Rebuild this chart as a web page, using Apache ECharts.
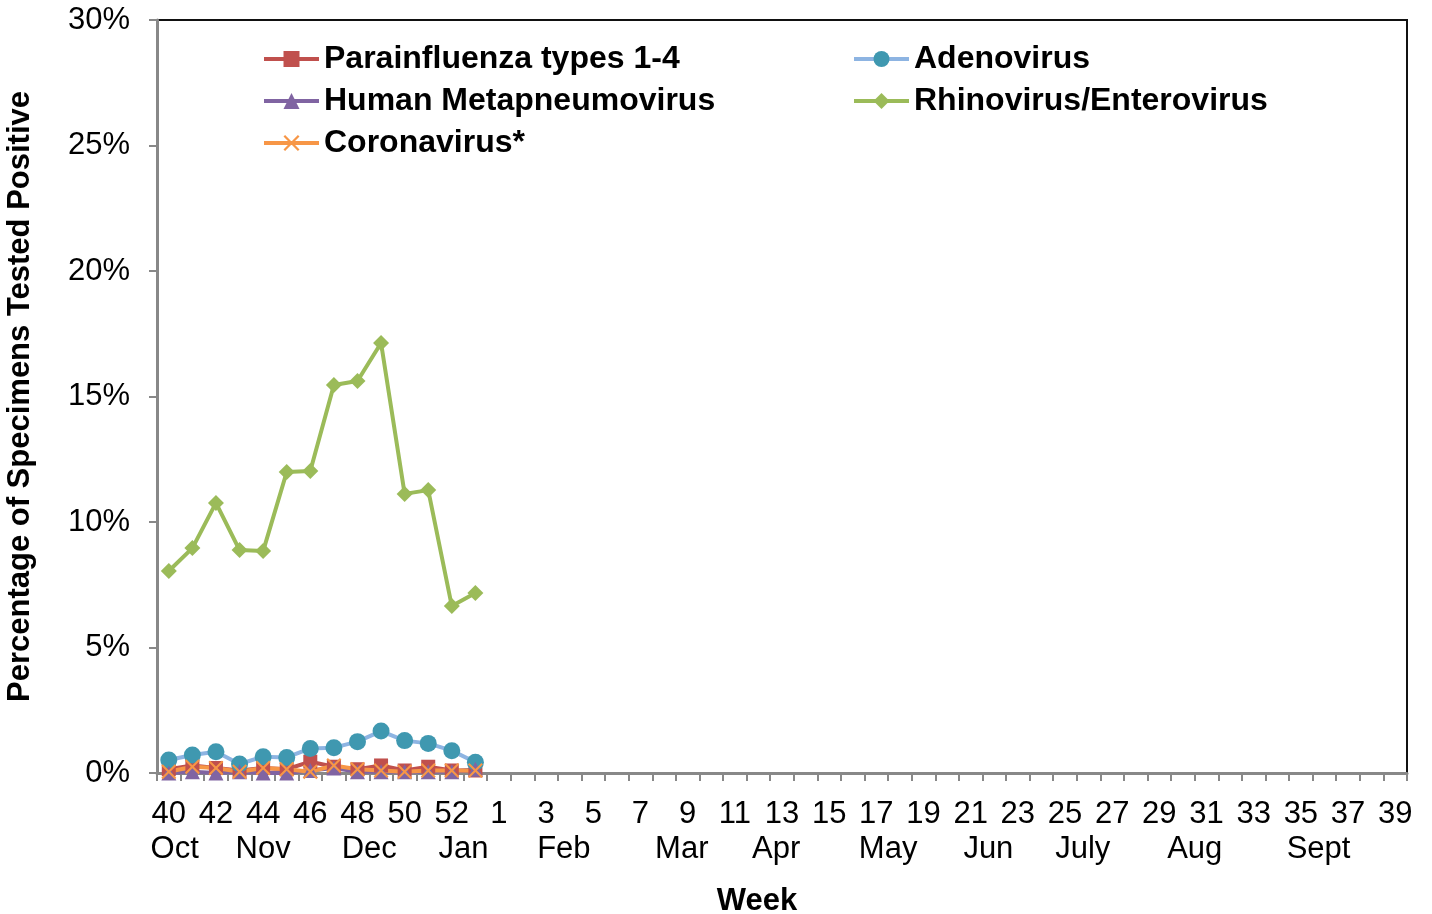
<!DOCTYPE html>
<html>
<head>
<meta charset="utf-8">
<script src="https://cdn.jsdelivr.net/npm/echarts@6/dist/echarts.min.js"></script>
<style>
  html, body { margin: 0; padding: 0; background: #fff; }
  #chart { width: 1432px; height: 914px; }
</style>
</head>
<body>
<div id="chart"></div>
<script>
// weeks 40..53 then 1..39
const weeks = [];
for (let w = 40; w <= 53; w++) weeks.push(String(w));
for (let w = 1; w <= 39; w++) weeks.push(String(w));

const parainfluenza = [0.15, 0.3, 0.2, 0.1, 0.2, 0.15, 0.45, 0.25, 0.15, 0.3, 0.1, 0.25, 0.1, 0.1];
const adenovirus    = [0.52, 0.72, 0.85, 0.36, 0.65, 0.62, 0.98, 1.01, 1.25, 1.67, 1.29, 1.18, 0.89, 0.43];
const metapneumo    = [0.0, 0.05, 0.0, 0.05, 0.0, 0.0, 0.1, 0.2, 0.05, 0.05, 0.05, 0.05, 0.05, 0.15];
const rhinovirus    = [8.05, 8.96, 10.76, 8.88, 8.84, 11.99, 12.03, 15.46, 15.62, 17.13, 11.12, 11.27, 6.65, 7.17];
const coronavirus   = [0.05, 0.25, 0.2, 0.05, 0.2, 0.15, 0.05, 0.3, 0.15, 0.1, 0.05, 0.1, 0.1, 0.1];

// month labels under the week numbers (position in weeks from left edge)
const monthNames = ['Oct', 'Nov', 'Dec', 'Jan', 'Feb', 'Mar', 'Apr', 'May', 'Jun', 'July', 'Aug', 'Sept'];
const monthPos   = [0.75, 4.5, 9, 13, 17.25, 22.25, 26.25, 31, 35.25, 39.25, 44, 49.25];

const crossSymbol = 'path://M0,1 L1,0 L5,4 L9,0 L10,1 L6,5 L10,9 L9,10 L5,6 L1,10 L0,9 L4,5 Z';
const font = 'Liberation Sans, Arial, sans-serif';

const chart = echarts.init(document.getElementById('chart'));

function mkSeries(name, data, lineColor, markColor, symbol, size) {
  return {
    name: name,
    type: 'line',
    data: data,
    symbol: symbol,
    symbolSize: size,
    showAllSymbol: true,
    lineStyle: { color: lineColor, width: 4 },
    itemStyle: { color: markColor },
    emphasis: { disabled: true },
    animation: false
  };
}

const legendText = { fontFamily: font, fontSize: 32, fontWeight: 'bold', color: '#000' };
const legendBase = {
  orient: 'vertical',
  top: 43,
  padding: 0,
  itemWidth: 55, itemHeight: 20, itemGap: 10,
  lineStyle: { width: 4 },
  textStyle: legendText
};

chart.setOption({
  backgroundColor: '#fff',
  textStyle: { fontFamily: font },
  grid: {
    left: 157, right: 25, top: 20, bottom: 141,
    outerBoundsMode: 'none',
    show: true, borderColor: '#111', borderWidth: 2
  },
  legend: [
    Object.assign({ data: ['Parainfluenza types 1-4', 'Human Metapneumovirus', 'Coronavirus*'], left: 262 }, legendBase),
    Object.assign({ data: ['Adenovirus', 'Rhinovirus/Enterovirus'], left: 852 }, legendBase)
  ],
  xAxis: [{
    type: 'category',
    data: weeks,
    boundaryGap: true,
    name: 'Week',
    nameLocation: 'middle',
    nameGap: 113,
    nameTextStyle: { fontFamily: font, fontSize: 31, fontWeight: 'bold', color: '#000', padding: [0, 50, 0, 0] },
    axisLine: { lineStyle: { color: '#888', width: 3 } },
    axisTick: { show: true, interval: 0, length: 8, lineStyle: { color: '#888', width: 2 } },
    axisLabel: { interval: 1, margin: 26, fontSize: 31, color: '#000', fontFamily: font },
    splitLine: { show: false }
  }, {
    type: 'value',
    min: 0, max: 53, interval: 0.25,
    position: 'bottom',
    offset: 35,
    axisLine: { show: false },
    axisTick: { show: false },
    splitLine: { show: false },
    axisLabel: {
      fontSize: 31, color: '#000', fontFamily: font, margin: 26,
      formatter: function (v) {
        const i = monthPos.indexOf(v);
        return i >= 0 ? monthNames[i] : '';
      }
    }
  }],
  yAxis: {
    type: 'value',
    min: 0, max: 30, interval: 5,
    name: 'Percentage of Specimens Tested Positive',
    nameLocation: 'middle',
    nameGap: 121,
    nameTextStyle: { fontFamily: font, fontSize: 31, fontWeight: 'bold', color: '#000' },
    axisLine: { show: true, lineStyle: { color: '#888', width: 3 } },
    axisTick: { show: true, length: 8, lineStyle: { color: '#888', width: 2 } },
    axisLabel: { formatter: '{value}%', fontSize: 31, color: '#000', margin: 27, fontFamily: font },
    splitLine: { show: false }
  },
  series: [
    mkSeries('Parainfluenza types 1-4', parainfluenza, '#C0504D', '#C0504D', 'rect', 14),
    mkSeries('Adenovirus', adenovirus, '#8DB4E2', '#3F98B0', 'circle', 17),
    mkSeries('Human Metapneumovirus', metapneumo, '#8064A2', '#8064A2', 'triangle', 15),
    mkSeries('Rhinovirus/Enterovirus', rhinovirus, '#9BBB59', '#9BBB59', 'diamond', 16),
    mkSeries('Coronavirus*', coronavirus, '#F79646', '#F79646', crossSymbol, 15)
  ]
});
</script>
</body>
</html>
